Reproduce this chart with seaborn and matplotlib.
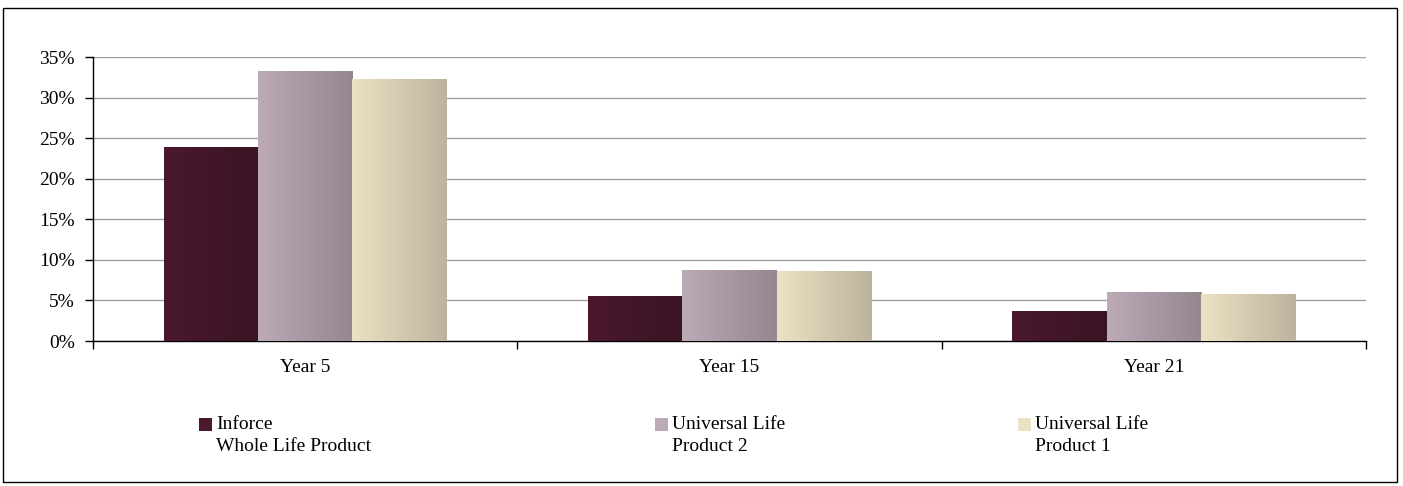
import numpy as np
import pandas as pd
import matplotlib
matplotlib.use("Agg")
import matplotlib.pyplot as plt
import seaborn as sns
from matplotlib.colors import LinearSegmentedColormap
from matplotlib.patches import Rectangle
from matplotlib.ticker import PercentFormatter, FixedLocator

years = ["Year 5", "Year 15", "Year 21"]
products = ["Inforce\nWhole Life Product", "Universal Life\nProduct 2", "Universal Life\nProduct 1"]
inforce = [0.239, 0.056, 0.037]
ul_2 = [0.333, 0.088, 0.060]
ul_1 = [0.323, 0.086, 0.058]

# left -> right shading of each bar
grad_colors = [("#4b182f", "#3a1423"), ("#bcaab6", "#958690"), ("#ede1c3", "#bdb39d")]

df = pd.DataFrame({
    "year": years * 3,
    "product": [products[0]] * 3 + [products[1]] * 3 + [products[2]] * 3,
    "value": inforce + ul_2 + ul_1,
})

sns.set_theme(style="white")
plt.rcParams["font.family"] = ["Liberation Serif", "DejaVu Serif"]
FS = 14

fig = plt.figure(figsize=(14.03, 4.86), dpi=100)
ax = fig.add_axes([93 / 1403, 1 - 341 / 486, (1366 - 93) / 1403, (341 - 57) / 486])

sns.barplot(data=df, x="year", y="value", hue="product", hue_order=products,
            palette=[c[1] for c in grad_colors], width=0.667, dodge=True,
            edgecolor="none", linewidth=0, legend=False, ax=ax, zorder=3)

grad = np.linspace(0, 1, 256).reshape(1, -1)
for cont, (c0, c1) in zip(ax.containers, grad_colors):
    cmap = LinearSegmentedColormap.from_list("g", [c0, c1])
    for bar in cont:
        x0, w, h = bar.get_x(), bar.get_width(), bar.get_height()
        im = ax.imshow(grad, cmap=cmap, extent=(x0, x0 + w, 0, h), aspect="auto",
                       zorder=3, interpolation="bilinear")
        im.set_clip_path(bar)
        bar.set_alpha(0)

ax.set_xlim(-0.5, 2.5)
ax.set_ylim(0, 0.35)
ax.set_yticks(np.arange(0, 0.351, 0.05))
ax.yaxis.set_major_formatter(PercentFormatter(1.0, decimals=0))
ax.yaxis.grid(True, color="#a0a0a0", linewidth=1)
ax.set_axisbelow(True)
ax.set_xlabel("")
ax.set_ylabel("")

for s in ["top", "right"]:
    ax.spines[s].set_visible(False)
for s in ["left", "bottom"]:
    ax.spines[s].set_color("black")
    ax.spines[s].set_linewidth(1)

ax.xaxis.set_minor_locator(FixedLocator([-0.5, 0.5, 1.5, 2.5]))
ax.tick_params(axis="x", which="major", length=0, pad=13, labelsize=FS, colors="black")
ax.tick_params(axis="x", which="minor", length=6, width=1, color="black", direction="out", bottom=True)
ax.tick_params(axis="y", length=6, width=1, color="black", direction="out", left=True,
               labelsize=FS, colors="black", pad=7)

# legend drawn by hand to keep Excel-like spacing
leg_x = [199, 655, 1018]
for px, lab, (c0, c1) in zip(leg_x, products, grad_colors):
    fig.patches.append(Rectangle((px / 1403, 1 - 431 / 486), 13 / 1403, 13 / 486,
                                 transform=fig.transFigure, facecolor=c0, edgecolor="none"))
    fig.text((px + 17) / 1403, 1 - 416 / 486, lab, ha="left", va="top",
             fontsize=FS, linespacing=1.38, color="black")

fig.patches.append(Rectangle((3 / 1403, 4 / 486), 1394 / 1403, 474 / 486,
                             transform=fig.transFigure, fill=False, edgecolor="black", linewidth=1))

fig.savefig("out.png", dpi=100)
